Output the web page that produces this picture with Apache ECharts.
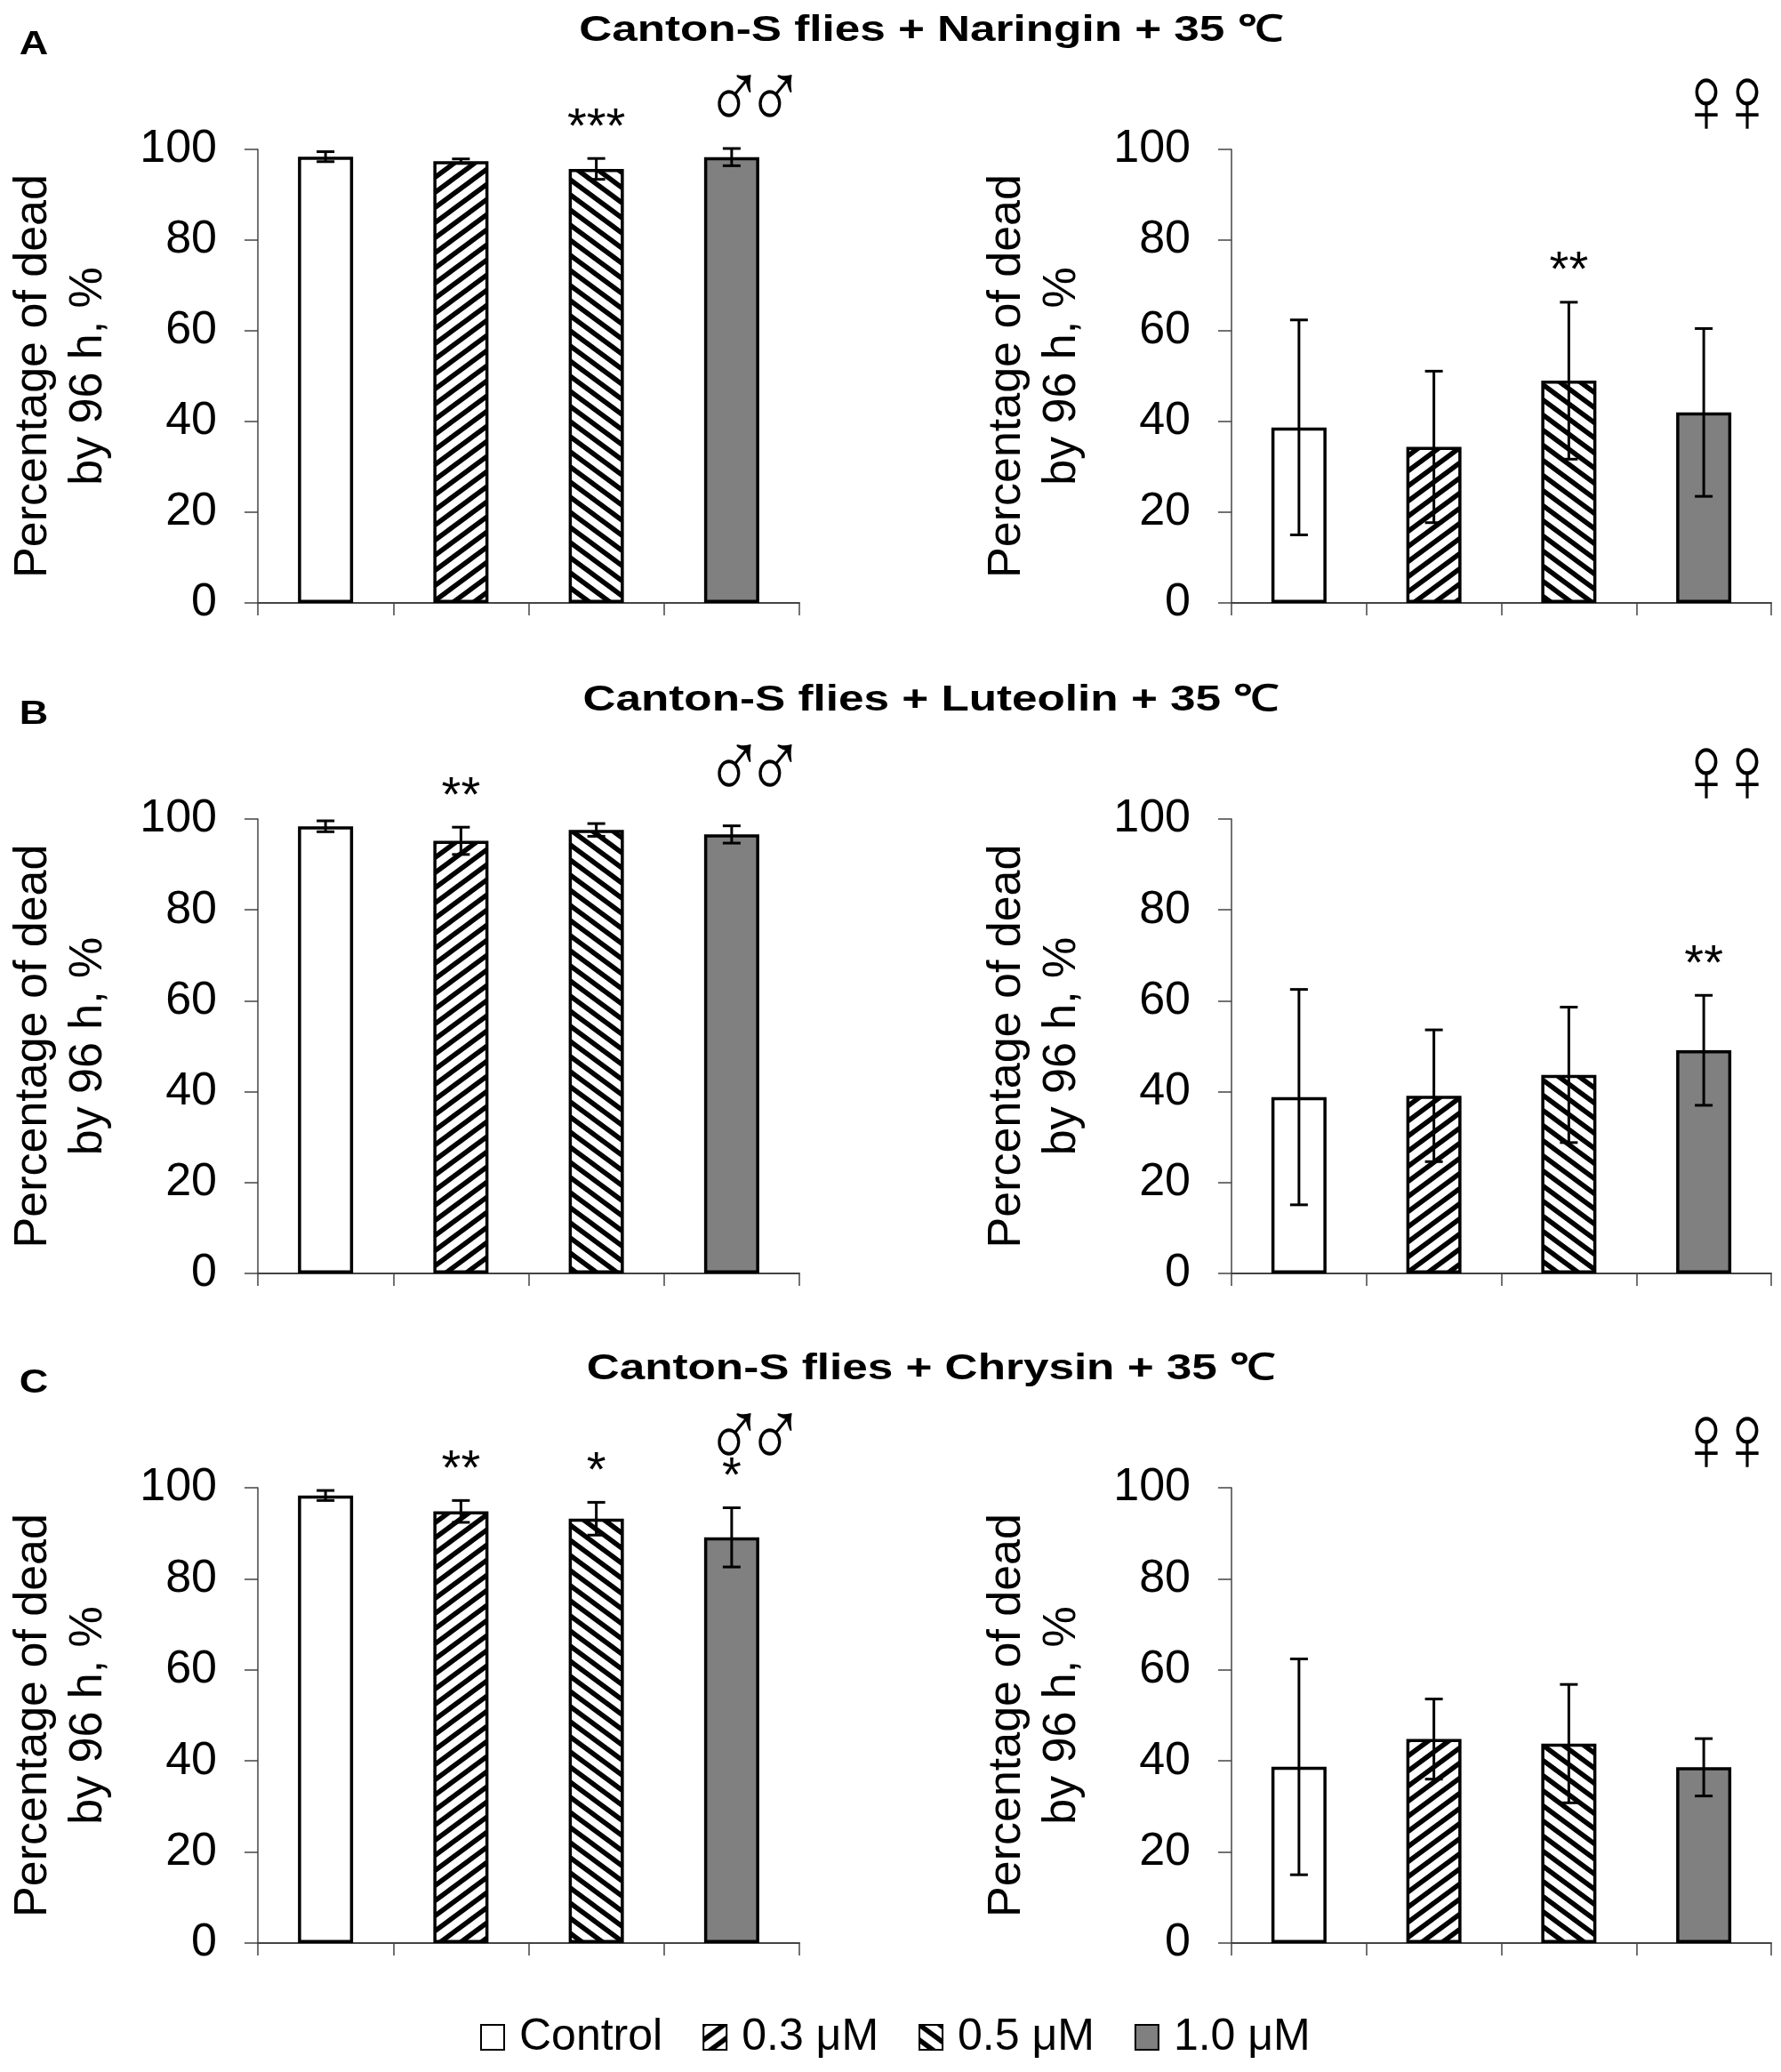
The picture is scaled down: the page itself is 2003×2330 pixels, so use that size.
<!DOCTYPE html>
<html>
<head>
<meta charset="utf-8">
<script src="https://cdn.jsdelivr.net/npm/echarts@6/dist/echarts.min.js"></script>
<style>
  html, body { margin: 0; padding: 0; background: #fff; }
  #chartDiv { width: 2003px; height: 2330px; }
</style>
</head>
<body>
<div id="chartDiv"></div>
<script>
var myChart = echarts.init(document.getElementById('chartDiv'));

var doses = ['Control', '0.3 μM', '0.5 μM', '1.0 μM'];
var panelLetters = ['A', 'B', 'C'];
var panelTitles = [
    'Canton-S flies + Naringin + 35 ℃',
    'Canton-S flies + Luteolin + 35 ℃',
    'Canton-S flies + Chrysin + 35 ℃'
];
var yTicks = [0, 20, 40, 60, 80, 100];
var yName = 'Percentage of dead\nby 96 h, %';

// means and error bars, male / female for each flavonoid
var naringinMale = [98.4, 97.4, 95.7, 98.3];
var naringinMaleErr = [1.1, 0.5, 2.3, 1.9];
var naringinMaleSig = ['', '', '***', ''];
var naringinFemale = [38.7, 34.4, 49.0, 42.0];
var naringinFemaleErr = [23.7, 16.7, 17.3, 18.5];
var naringinFemaleSig = ['', '', '**', ''];

var luteolinMale = [98.4, 95.2, 97.6, 96.6];
var luteolinMaleErr = [1.2, 3.0, 1.4, 1.9];
var luteolinMaleSig = ['', '**', '', ''];
var luteolinFemale = [38.8, 39.1, 43.7, 49.1];
var luteolinFemaleErr = [23.7, 14.5, 14.9, 12.1];
var luteolinFemaleSig = ['', '', '', '**'];

var chrysinMale = [98.3, 94.8, 93.2, 89.1];
var chrysinMaleErr = [1.1, 2.4, 3.6, 6.5];
var chrysinMaleSig = ['', '**', '*', '*'];
var chrysinFemale = [38.7, 44.8, 43.8, 38.6];
var chrysinFemaleErr = [23.7, 8.8, 13.0, 6.3];
var chrysinFemaleSig = ['', '', '', ''];

var panels = [
    [naringinMale, naringinMaleErr, naringinMaleSig],
    [naringinFemale, naringinFemaleErr, naringinFemaleSig],
    [luteolinMale, luteolinMaleErr, luteolinMaleSig],
    [luteolinFemale, luteolinFemaleErr, luteolinFemaleSig],
    [chrysinMale, chrysinMaleErr, chrysinMaleSig],
    [chrysinFemale, chrysinFemaleErr, chrysinFemaleSig]
];
var sexSymbols = ['♂', '♀'];

// layout
var colLeft = [290, 1385];
var colWidth = [609, 607];
var rowTop = [168, 921, 1673];
var rowHeight = [510, 511, 512];
var symbolLift = [51, 47];
var FONT = '"Liberation Sans", Arial, sans-serif';
var SYMFONT = '"DejaVu Sans ExtraLight", "DejaVu Sans", sans-serif';

function stripes(forward) {
    var w = 23, h = 17;
    var c = document.createElement('canvas');
    c.width = w; c.height = h;
    var ctx = c.getContext('2d');
    ctx.fillStyle = '#fff';
    ctx.fillRect(0, 0, w, h);
    ctx.strokeStyle = '#000';
    ctx.lineWidth = 5.5;
    for (var k = -1; k <= 2; k++) {
        ctx.beginPath();
        if (forward) {
            ctx.moveTo(-w, k * h + h);
            ctx.lineTo(2 * w, k * h - 2 * h);
        } else {
            ctx.moveTo(-w, k * h - h);
            ctx.lineTo(2 * w, k * h + 2 * h);
        }
        ctx.stroke();
    }
    return {image: c, repeat: 'repeat'};
}
var fills = ['#ffffff', stripes(true), stripes(false), '#808080'];

var grids = [], xAxes = [], yAxes = [], series = [], graphics = [];

panelTitles.forEach(function (t, r) {
    graphics.push({
        type: 'text', x: 1047, y: rowTop[r] - 133, scaleX: 1.25,
        style: {text: t, font: 'bold 41px ' + FONT, fill: '#000',
                textAlign: 'center', textVerticalAlign: 'middle'}
    });
    graphics.push({
        type: 'text', x: 38, y: rowTop[r] - 117, scaleX: 1.25,
        style: {text: panelLetters[r], font: 'bold 36px ' + FONT, fill: '#000',
                textAlign: 'center', textVerticalAlign: 'middle'}
    });
});

panels.forEach(function (p, g) {
    var r = Math.floor(g / 2), col = g % 2;
    var means = p[0], errs = p[1], sigs = p[2];
    grids.push({left: colLeft[col], top: rowTop[r], width: colWidth[col], height: rowHeight[r]});
    xAxes.push({
        type: 'category', gridIndex: g, data: doses,
        axisLine: {lineStyle: {color: '#444', width: 2}},
        axisTick: {show: true, length: 14, interval: 0, lineStyle: {color: '#444', width: 1.5}},
        axisLabel: {show: false}
    });
    yAxes.push({
        type: 'value', gridIndex: g, min: 0, max: 100, interval: 20,
        axisLine: {show: true, lineStyle: {color: '#444', width: 1.5}},
        axisTick: {show: true, length: 15, lineStyle: {color: '#444', width: 1.5}},
        axisLabel: {
            margin: 46, fontSize: 52, color: '#000', fontFamily: FONT,
            formatter: function (v) { return yTicks.indexOf(v) >= 0 ? String(v) : ''; }
        },
        splitLine: {show: false},
        name: yName, nameLocation: 'middle', nameGap: 159, nameRotate: 90,
        nameTextStyle: {fontSize: 52, lineHeight: 62, color: '#000', fontFamily: FONT}
    });
    doses.forEach(function (d, k) {
        series.push({
            type: 'bar', name: d, xAxisIndex: g, yAxisIndex: g,
            barWidth: 62, barGap: '-100%',
            data: means.map(function (v, i) { return i === k ? v : '-'; }),
            itemStyle: {color: fills[k], borderColor: '#000', borderWidth: 3.5},
            silent: true, animation: false
        });
    });
    series.push({
        type: 'custom', xAxisIndex: g, yAxisIndex: g, z: 5,
        silent: true, animation: false, clip: false,
        data: means.map(function (m, i) { return [i, m, errs[i]]; }),
        renderItem: function (params, api) {
            var i = api.value(0), m = api.value(1), e = api.value(2);
            var top = api.coord([i, m + e]);
            var bot = api.coord([i, m - e]);
            var half = 10;
            var ls = {stroke: '#000', lineWidth: 3};
            var children = [
                {type: 'line', shape: {x1: top[0], y1: top[1], x2: bot[0], y2: bot[1]}, style: ls},
                {type: 'line', shape: {x1: top[0] - half, y1: top[1], x2: top[0] + half, y2: top[1]}, style: ls},
                {type: 'line', shape: {x1: bot[0] - half, y1: bot[1], x2: bot[0] + half, y2: bot[1]}, style: ls}
            ];
            var s = sigs[params.dataIndex];
            if (s) {
                children.push({
                    type: 'text', x: top[0], y: top[1] - 34,
                    style: {text: s, font: '56px ' + FONT, fill: '#000',
                            textAlign: 'center', textVerticalAlign: 'middle'}
                });
            }
            return {type: 'group', children: children};
        }
    });
    [73, 27].forEach(function (dx) {
        graphics.push({
            type: 'text', x: colLeft[col] + colWidth[col] - dx, y: rowTop[r] - symbolLift[col],
            scaleX: 0.82,
            style: {text: sexSymbols[col], font: '200 108px ' + SYMFONT, fill: '#000',
                    textAlign: 'center', textVerticalAlign: 'middle'}
        });
    });
});

option = {
    backgroundColor: '#ffffff',
    animation: false,
    grid: grids,
    xAxis: xAxes,
    yAxis: yAxes,
    legend: {
        data: doses,
        left: 535,
        top: 2261,
        icon: 'rect',
        itemWidth: 26,
        itemHeight: 28,
        itemGap: 45,
        itemStyle: {borderColor: '#000', borderWidth: 2},
        textStyle: {fontSize: 50, color: '#000', fontFamily: FONT, padding: [0, 0, 0, 12]},
        selectedMode: false
    },
    graphic: graphics,
    series: series
};
myChart.setOption(option);
</script>
</body>
</html>
